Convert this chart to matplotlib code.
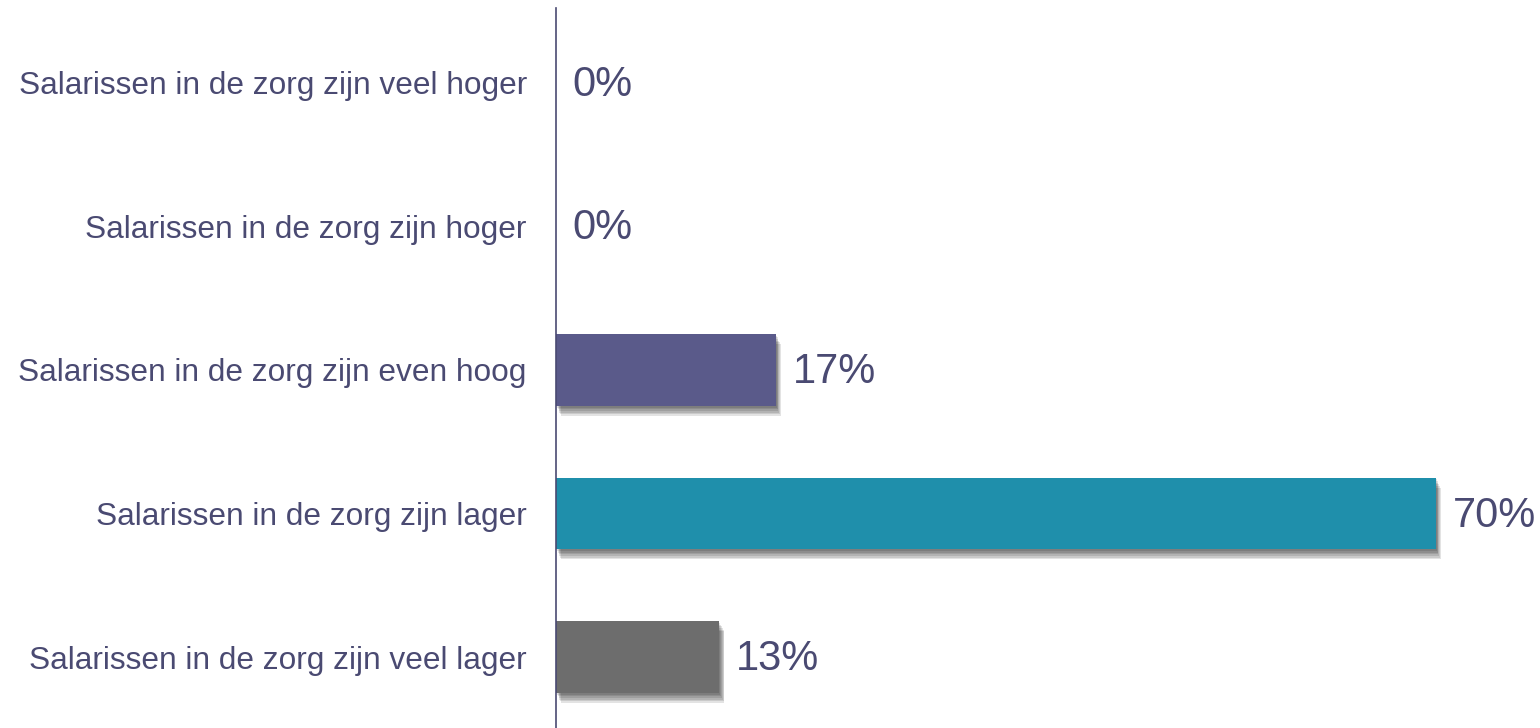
import matplotlib.pyplot as plt
import matplotlib.patheffects as pe

categories = [
    'Salarissen in de zorg zijn veel hoger',
    'Salarissen in de zorg zijn hoger',
    'Salarissen in de zorg zijn even hoog',
    'Salarissen in de zorg zijn lager',
    'Salarissen in de zorg zijn veel lager',
]
values = [0, 0, 17.5, 70, 13]
labels = ['0%', '0%', '17%', '70%', '13%']
colors = ['#5a5a8a', '#5a5a8a', '#5a5a8a', '#1f8fab', '#6d6d6d']

text_col = '#4a4a72'
plt.rcParams['font.family'] = ['Liberation Sans', 'DejaVu Sans']

fig = plt.figure(figsize=(15.4, 7.28), dpi=100)
ax = fig.add_axes([556 / 1540, 0, 1 - 556 / 1540, 720 / 728])

y = list(range(len(categories)))
bars = ax.barh(y, values, height=0.5, color=colors)
# soft drop shadow, built from a few stacked offsets
shadow = [pe.SimplePatchShadow(offset=(0.6 * k, -1.2 * k), shadow_rgbFace='#000000', alpha=0.11)
          for k in range(6, 0, -1)]
for b in bars:
    b.set_path_effects(shadow + [pe.Normal()])

for yi, v, lab in zip(y, values, labels):
    ax.annotate(lab, (v, yi), xytext=(12, -1.5), textcoords='offset points',
                va='center', ha='left', fontsize=30, color=text_col)

ax.set_xlim(0, 984 / 12.57)
ax.set_ylim(4 + 71 / 144, -75 / 144)
ax.set_yticks(y)
ax.set_yticklabels(categories, fontsize=22.8, color=text_col)
ax.tick_params(axis='y', length=0, pad=21)
ax.set_xticks([])
for s in ['top', 'right', 'bottom']:
    ax.spines[s].set_visible(False)
ax.spines['left'].set_color('#4a4a72')
ax.spines['left'].set_linewidth(1.2)

fig.savefig('out.png', dpi=100)
